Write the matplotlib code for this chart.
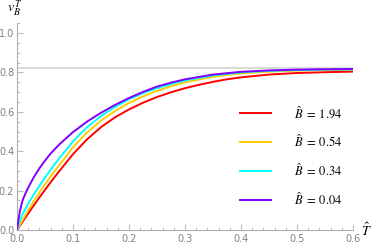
import numpy as np
import matplotlib
matplotlib.use("Agg")
import matplotlib.pyplot as plt
from matplotlib.ticker import MultipleLocator, FormatStrFormatter

plt.rcParams['mathtext.fontset'] = 'stix'
plt.rcParams['font.family'] = ['DejaVu Sans']

# Data (T-hat, v_B^T)
T_red = [0.0, 0.01, 0.02, 0.03, 0.04, 0.05, 0.06, 0.075, 0.1, 0.125, 0.15, 0.175,
         0.2, 0.225, 0.25, 0.275, 0.3, 0.325, 0.35, 0.375, 0.4, 0.45, 0.5, 0.55, 0.6]
v_194 = [0.0, 0.042, 0.084, 0.125, 0.165, 0.204, 0.242, 0.297, 0.385, 0.46, 0.522,
         0.572, 0.612, 0.646, 0.675, 0.699, 0.72, 0.737, 0.752, 0.765, 0.775,
         0.789, 0.797, 0.801, 0.804]

T_yel = [0.0, 0.005, 0.01, 0.02, 0.03, 0.04, 0.05, 0.06, 0.075, 0.1, 0.125, 0.15,
         0.175, 0.2, 0.225, 0.25, 0.275, 0.3, 0.35, 0.4, 0.45, 0.5, 0.55, 0.6]
v_054 = [0.0, 0.026, 0.051, 0.1, 0.146, 0.19, 0.232, 0.272, 0.328, 0.42, 0.495,
         0.555, 0.604, 0.645, 0.678, 0.706, 0.73, 0.75, 0.778, 0.795, 0.804, 0.809,
         0.812, 0.814]

T_cya = [0.0, 0.005, 0.01, 0.015, 0.02, 0.03, 0.04, 0.05, 0.06, 0.075, 0.1, 0.125,
         0.15, 0.175, 0.2, 0.225, 0.25, 0.275, 0.3, 0.35, 0.4, 0.45, 0.5, 0.55, 0.6]
v_034 = [0.0, 0.045, 0.08, 0.108, 0.133, 0.18, 0.224, 0.266, 0.306, 0.362, 0.45,
         0.522, 0.578, 0.625, 0.664, 0.695, 0.72, 0.741, 0.759, 0.785, 0.8, 0.808,
         0.812, 0.814, 0.815]

T_pur = [0.0, 0.0025, 0.005, 0.0075, 0.01, 0.015, 0.02, 0.03, 0.04, 0.05, 0.06,
         0.075, 0.1, 0.125, 0.15, 0.175, 0.2, 0.225, 0.25, 0.275, 0.3, 0.35, 0.4,
         0.45, 0.5, 0.55, 0.6]
v_004 = [0.0, 0.05, 0.092, 0.125, 0.15, 0.185, 0.215, 0.268, 0.313, 0.352, 0.388,
         0.433, 0.497, 0.55, 0.595, 0.635, 0.67, 0.701, 0.728, 0.748, 0.765, 0.789,
         0.803, 0.81, 0.814, 0.816, 0.817]

asymptote = 0.82

series = [
    (T_red, v_194, '#FF0000', r'$\hat{B}\;=\;1.94$'),
    (T_yel, v_054, '#FFCC00', r'$\hat{B}\;=\;0.54$'),
    (T_cya, v_034, '#00FFFF', r'$\hat{B}\;=\;0.34$'),
    (T_pur, v_004, '#7F00FF', r'$\hat{B}\;=\;0.04$'),
]

fig = plt.figure(figsize=(3.74, 2.48), dpi=100)
ax = fig.add_axes([17/374, 18/248, 336/374, 206.85/248])

ax.axhline(asymptote, color='#d4d4d4', lw=1.2, zorder=1)
for tt, vals, col, lab in series:
    ax.plot(tt, vals, color=col, lw=1.4, label=lab, zorder=3,
            solid_joinstyle='round')

ax.set_xlim(0, 0.6)
ax.set_ylim(0, 1.05)
for s in ['top', 'right']:
    ax.spines[s].set_visible(False)
for s in ['left', 'bottom']:
    ax.spines[s].set_color('#b0b0b0')
    ax.spines[s].set_linewidth(0.8)

ax.xaxis.set_major_locator(MultipleLocator(0.1))
ax.xaxis.set_minor_locator(MultipleLocator(0.02))
ax.yaxis.set_major_locator(MultipleLocator(0.2))
ax.yaxis.set_minor_locator(MultipleLocator(0.05))
ax.xaxis.set_major_formatter(FormatStrFormatter('%.1f'))
ax.yaxis.set_major_formatter(FormatStrFormatter('%.1f'))
ax.tick_params(which='both', direction='in', color='#b0b0b0', width=0.6,
               labelsize=7, labelcolor='#808080')
ax.tick_params(which='major', length=4)
ax.tick_params(axis='x', which='major', pad=3)
ax.tick_params(axis='y', which='major', pad=2)
ax.tick_params(which='minor', length=2)
ax.patch.set_alpha(0)

ax.text(1.025, 0.0, r'$\hat{T}$', transform=ax.transAxes, fontsize=10,
        ha='left', va='center')
ax.text(-0.03, 1.02, r'$v_B^T$', transform=ax.transAxes, fontsize=10,
        ha='left', va='bottom')

ax.legend(loc='upper left', bbox_to_anchor=(0.664, 0.606), frameon=False,
          fontsize=9, handlelength=2.5, handletextpad=1.85, labelspacing=1.0,
          borderaxespad=0, borderpad=0)

fig.savefig('out.png', dpi=100)
